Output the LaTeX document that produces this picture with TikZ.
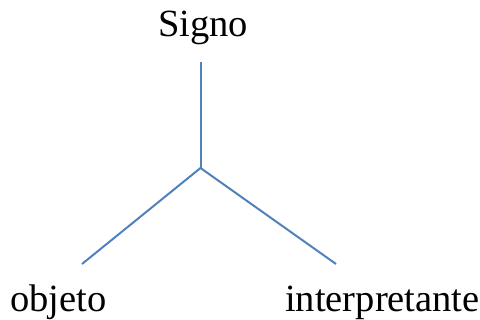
\documentclass[tikz,border=0pt]{standalone}
\usepackage{fontspec}
\setmainfont{Liberation Serif}
\begin{document}
\begin{tikzpicture}[x=1pt,y=-1pt,
  lbl/.style={inner sep=0pt,font=\fontsize{38.5}{40}\selectfont},
  link/.style={draw={rgb,255:red,79;green,129;blue,189},line width=2pt}]
\useasboundingbox (0,0) rectangle (480,320);
\node[lbl,anchor=base] (signo) at (203,37) {Signo};
\node[lbl,anchor=base west] (objeto) at (10,312) {objeto};
\node[lbl,anchor=base west] (interp) at (285,312) {interpretante};
\coordinate (top) at (200.5,62);
\coordinate (mid) at (200.5,168);
\coordinate (left) at (82,264);
\coordinate (right) at (336,264);
\draw[link] (top) -- (mid);
\draw[link] (mid) -- (left);
\draw[link] (mid) -- (right);
\end{tikzpicture}
\end{document}
